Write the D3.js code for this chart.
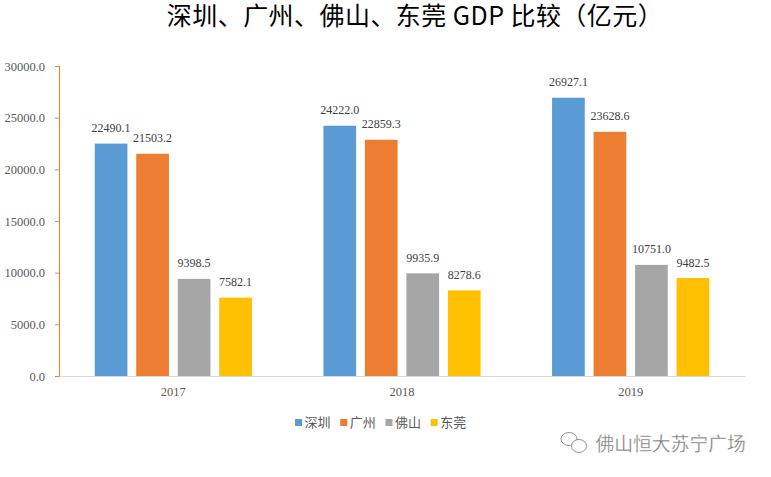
<!DOCTYPE html>
<html><head><meta charset="utf-8">
<script src="https://cdn.jsdelivr.net/npm/d3@7"></script>
<style>html,body{margin:0;padding:0;background:#fff}svg{display:block}</style>
</head><body><svg id="c" width="771" height="477"></svg>
<script>
const titleText = "深圳、广州、佛山、东莞 GDP 比较（亿元）";
const years = ["2017","2018","2019"];
const seriesNames = ["深圳","广州","佛山","东莞"];
const seriesColors = ["#5B9BD5","#ED7D31","#A5A5A5","#FFC000"];
const shenzhen = [22490.1,24222.0,26927.1];
const guangzhou = [21503.2,22859.3,23628.6];
const foshan = [9398.5,9935.9,10751.0];
const dongguan = [7582.1,8278.6,9482.5];
const yTicks = [0,5000,10000,15000,20000,25000,30000];
const watermark = "佛山恒大苏宁广场";
const allSeries = [shenzhen,guangzhou,foshan,dongguan];

const serif = "'Liberation Serif',serif", cjk = "'Noto Sans CJK SC','Noto Sans',sans-serif";
const svg = d3.select("#c");
const x0 = d3.scaleBand().domain(years).range([59,745]);
const x1 = d3.scaleBand().domain(seriesNames).range([x0.bandwidth()/2-78.6,x0.bandwidth()/2+78.6]).paddingInner(0.212).paddingOuter(0);
const y = d3.scaleLinear().domain([0,30000]).range([376,66]);

svg.append("text").attr("x",415).attr("y",25).attr("text-anchor","middle")
  .attr("font-family",cjk).attr("font-size",25).attr("letter-spacing",0.45).attr("fill","#000").text(titleText);

// axes
const ya = svg.append("g").attr("transform","translate(59,0)")
  .call(d3.axisLeft(y).tickValues(yTicks).tickSize(4).tickPadding(10).tickFormat(d3.format(".1f")));
ya.selectAll("path,line").attr("stroke","#E08B3E");
ya.select("path").attr("stroke-width",1.2);
ya.selectAll("text").attr("font-family",serif).attr("font-size",12.5).attr("fill","#595959");

const xa = svg.append("g").attr("transform","translate(0,376)")
  .call(d3.axisBottom(x0).tickSize(0).tickPadding(11));
xa.select("path").attr("stroke","#D9D9D9").attr("stroke-width",1.2);
xa.selectAll("text").attr("font-family",serif).attr("font-size",12.5).attr("fill","#595959");

// bars
seriesNames.forEach((name,si)=>{
  const g = svg.append("g");
  g.selectAll("rect").data(allSeries[si]).join("rect")
    .attr("x",(d,i)=>x0(years[i])+x1(name))
    .attr("width",x1.bandwidth())
    .attr("y",d=>y(d)).attr("height",d=>y(0)-y(d))
    .attr("fill",seriesColors[si]);
  g.selectAll("text").data(allSeries[si]).join("text")
    .attr("x",(d,i)=>x0(years[i])+x1(name)+x1.bandwidth()/2)
    .attr("y",d=>y(d)-11.5)
    .attr("text-anchor","middle")
    .attr("font-family",serif).attr("font-size",12).attr("fill","#404040")
    .text(d=>d3.format(".1f")(d));
});

// legend
const legendX = d3.scalePoint().domain(seriesNames).range([295,430.7]);
const lg = svg.selectAll("g.lg").data(seriesNames).join("g").attr("class","lg")
  .attr("transform",d=>`translate(${legendX(d)},0)`);
lg.append("rect").attr("y",419).attr("width",7).attr("height",7).attr("fill",(d,i)=>seriesColors[i]);
lg.append("text").attr("x",9.5).attr("y",427).attr("font-family",cjk).attr("font-size",13).attr("fill","#595959").text(d=>d);

// watermark
const wm = svg.append("g").attr("fill","#fff").attr("stroke","#777").attr("stroke-width",0.8);
wm.append("ellipse").attr("cx",569).attr("cy",439).attr("rx",8).attr("ry",6.5);
wm.append("ellipse").attr("cx",579).attr("cy",446).attr("rx",7.5).attr("ry",6.5);
svg.append("text").attr("x",595.5).attr("y",451).attr("font-family",cjk).attr("font-size",18.8)
  .attr("fill","#777").attr("stroke","#fff").attr("stroke-width",0.3).text(watermark);
</script></body></html>
